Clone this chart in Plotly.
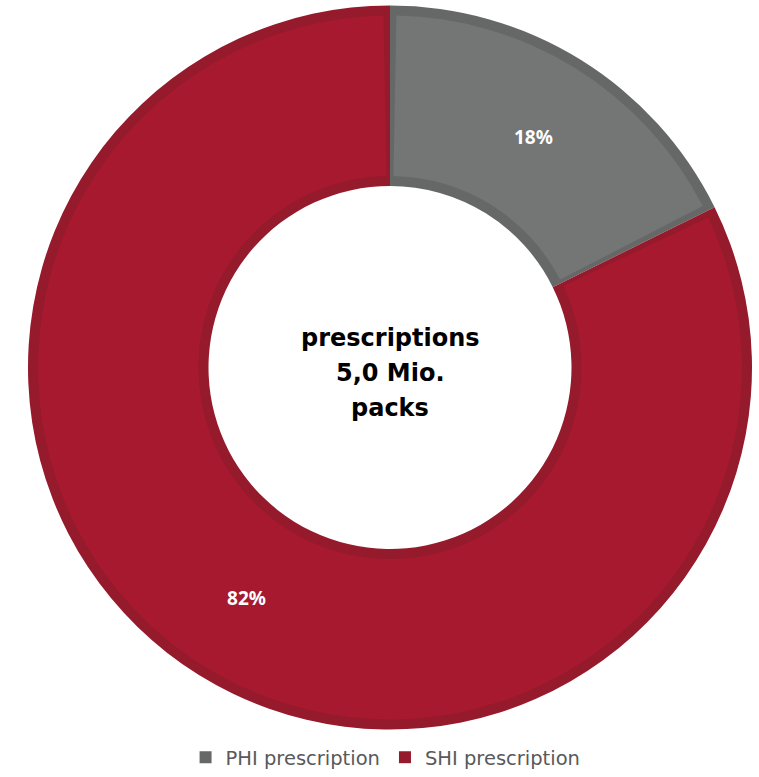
import plotly.graph_objects as go

# Data
categories = ["PHI prescription", "SHI prescription"]
shares = [17.7, 82.3]          # percent of 5,0 Mio. packs
center_lines = ["prescriptions", "5,0 Mio.", "packs"]

# Styles
fill_colors = ["#747675", "#A6192E"]
edge_colors = ["#666867", "#941A2C"]

W, H = 759, 777
cx, cy = 390, 367.5
R_out, R_in = 362, 181.5
border = 10
gap = 0.29  # half-gap in percent, reveals the dark slice border between slices


def dom(r):
    return dict(x=[(cx - r) / W, (cx + r) / W], y=[1 - (cy + r) / H, 1 - (cy - r) / H])


fig = go.Figure()

# Outer dark layer (border colour)
fig.add_trace(go.Pie(
    labels=categories, values=shares, sort=False, direction="clockwise",
    hole=R_in / R_out, domain=dom(R_out),
    marker=dict(colors=edge_colors, line=dict(width=0)),
    textinfo="none", hoverinfo="label+percent", showlegend=True,
))

# Inner light layer, inset by the border width
r2 = R_out - border
vals2, cols2, labs2, txt2 = [], [], [], []
vals2.append(gap); cols2.append("rgba(0,0,0,0)"); labs2.append("g0"); txt2.append("")
for i, (c, v) in enumerate(zip(categories, shares)):
    vals2.append(v - 2 * gap); cols2.append(fill_colors[i]); labs2.append(c + " "); txt2.append(f"{round(v)}%")
    if i < len(shares) - 1:
        vals2.append(2 * gap); cols2.append("rgba(0,0,0,0)"); labs2.append(f"g{i+1}"); txt2.append("")
vals2.append(gap); cols2.append("rgba(0,0,0,0)"); labs2.append("gend"); txt2.append("")

fig.add_trace(go.Pie(
    labels=labs2, values=vals2, sort=False, direction="clockwise",
    hole=(R_in + border) / r2, domain=dom(r2),
    marker=dict(colors=cols2, line=dict(width=0)),
    text=txt2, textinfo="text", textposition="inside",
    insidetextorientation="horizontal",
    textfont=dict(family="Noto Sans", size=19, color="white", weight="bold"),
    hoverinfo="skip", showlegend=False,
))

for k, line in enumerate(center_lines):
    fig.add_annotation(
        text=f"<b>{line}</b>", x=cx / W, y=1 - (338 + 35 * k) / H,
        xref="paper", yref="paper", showarrow=False, xanchor="center", yanchor="middle",
        font=dict(family="DejaVu Sans", size=24, color="black"),
    )

fig.update_layout(
    width=W, height=H,
    margin=dict(l=0, r=0, t=0, b=0),
    paper_bgcolor="white", plot_bgcolor="white",
    legend=dict(orientation="h", x=0.508, xanchor="center", y=0, yanchor="bottom",
                font=dict(family="DejaVu Sans", size=19.5, color="#595959"),
                itemclick=False, itemdoubleclick=False, tracegroupgap=0),
)

fig.write_html("out.html", config={"displayModeBar": False},
               post_script="document.body.style.margin='0';")
